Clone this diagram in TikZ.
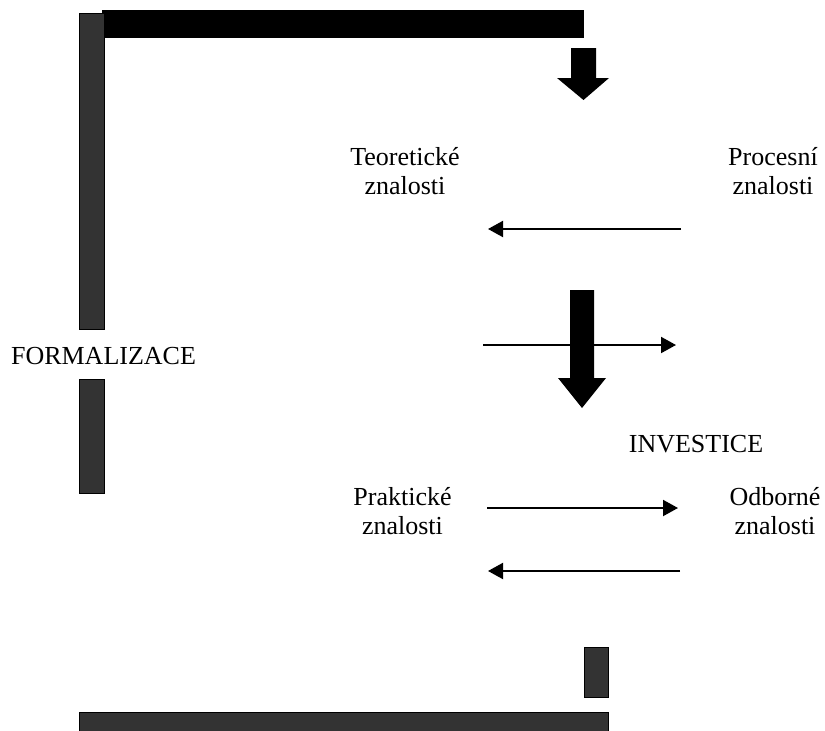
\documentclass[tikz,border=0pt]{standalone}
\usepackage{xcolor}
\usepackage{fontspec}
\setmainfont{Liberation Serif}
\usepackage{tikz}
\usetikzlibrary{arrows.meta, positioning}

\definecolor{bargray}{HTML}{333333}

\begin{document}
\begin{tikzpicture}[
  x=1pt, y=-1pt,
  every node/.style={font=\fontsize{26}{29}\selectfont, inner sep=0pt},
  txt/.style={align=center},
  bar/.style={fill=bargray, draw=black, line width=1pt},
  blockarrow/.style={fill=black},
  link/.style={-{Triangle[length=15pt, width=16pt]}, line width=2pt}
]
\useasboundingbox (0,0) rectangle (825,731);

% Bars
\fill (102,10) rectangle (584,38);
\draw[bar] (79,13) rectangle (104,329);
\draw[bar] (79,379) rectangle (104,493);
\draw[bar] (584,647) rectangle (608,697);
\draw[bar] (79,712) rectangle (608,745);

% Block arrows
\fill[blockarrow] (571,48) -- (596,48) -- (596,78) -- (609,78) -- (583.5,100)
  -- (557,78) -- (571,78) -- cycle;
\fill[blockarrow] (570,290) -- (594,290) -- (594,378) -- (606,378) -- (582,408)
  -- (558,378) -- (570,378) -- cycle;

% Labels
\node[txt] (teo) at (405,171) {Teoretické\\znalosti};
\node[txt] (proc) at (773,171) {Procesní\\znalosti};
\node[txt] (prak) at (402.5,511) {Praktické\\znalosti};
\node[txt] (odb) at (775,511) {Odborné\\znalosti};
\node[anchor=base] (form) at (103.5,364) {FORMALIZACE};
\node[anchor=base] (inv) at (696,452) {INVESTICE};

% Arrow ends
\coordinate (a1s) at (681,229);
\coordinate (a1e) at (488,229);
\coordinate (a2s) at (483,345);
\coordinate (a2e) at (676,345);
\coordinate (a3s) at (487,508);
\coordinate (a3e) at (678,508);
\coordinate (a4s) at (680,571);
\coordinate (a4e) at (488,571);

% Arrows
\draw[link] (a1s) -- (a1e);
\draw[link] (a2s) -- (a2e);
\draw[link] (a3s) -- (a3e);
\draw[link] (a4s) -- (a4e);
\end{tikzpicture}
\end{document}
